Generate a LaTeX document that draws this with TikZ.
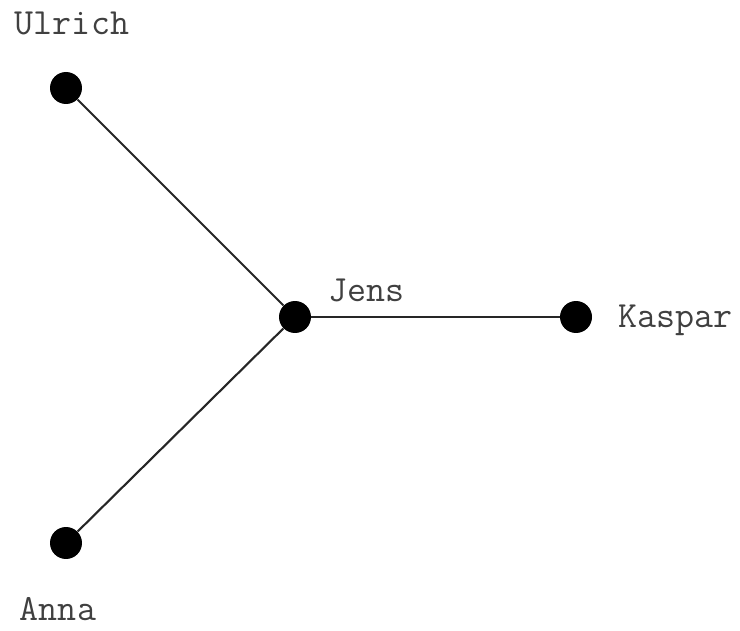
\documentclass[tikz,border=0pt]{standalone}
\usetikzlibrary{positioning}

\tikzset{
  person/.style={circle,fill=black,inner sep=0pt,minimum size=0.64cm},
  personname/.style={font=\ttfamily\fontsize{21}{23}\selectfont,text=black!75,anchor=base,inner sep=0pt},
  tie/.style={line width=1.2pt,black!85}
}

\begin{document}
\begin{tikzpicture}[x=0.02cm,y=-0.02cm]
  \useasboundingbox (0,0) rectangle (740,631);
  % people
  \node[person] (ulrich) at (66,88) {};
  \node[person] (jens)   at (295,317) {};
  \node[person] (kaspar) at (576,317) {};
  \node[person] (anna)   at (66,543) {};
  % ties
  \draw[tie] (jens) -- (ulrich);
  \draw[tie] (jens) -- (kaspar);
  \draw[tie] (jens) -- (anna);
  % names
  \node[personname] (ulrichname) at (72,35)  {Ulrich};
  \node[personname] (jensname)   at (366,302) {Jens};
  \node[personname] (kasparname) at (675,328) {Kaspar};
  \node[personname] (annaname)   at (58,620)  {Anna};
\end{tikzpicture}
\end{document}
